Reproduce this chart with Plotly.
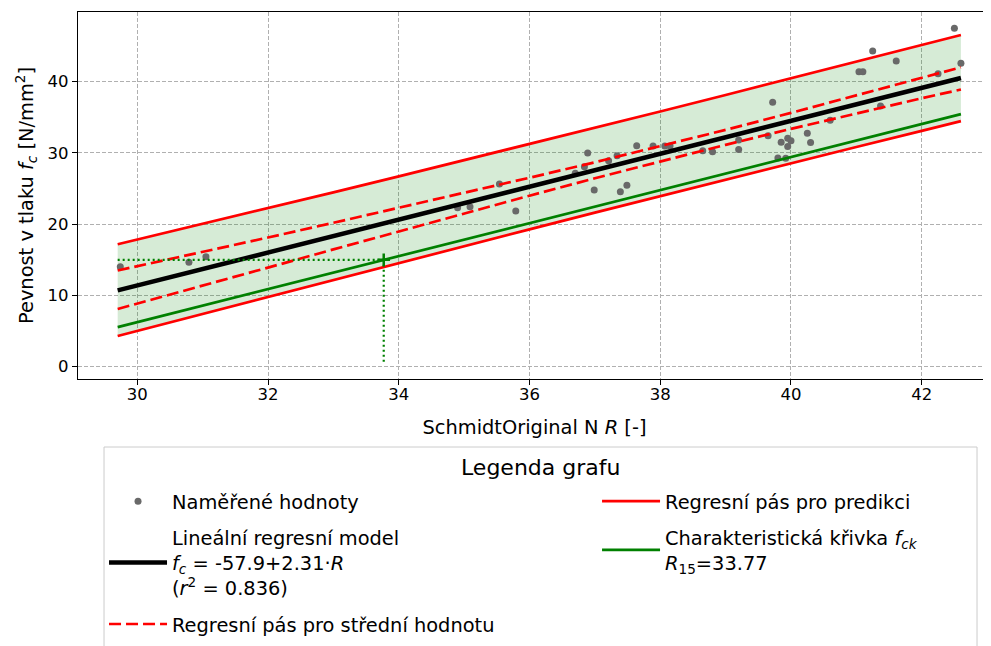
import plotly.graph_objects as go

R_meas = [29.74, 30.79, 31.05, 34.90, 35.09, 35.54, 35.79, 36.70, 36.84, 36.89,
          36.99, 37.21, 37.34, 37.39, 37.49, 37.64, 37.89, 38.07, 38.15, 38.65,
          38.80, 39.20, 39.20, 39.65, 39.72, 39.80, 39.85, 39.92, 39.95, 39.95,
          40.00, 40.25, 40.30, 40.60, 41.04, 41.10, 41.25, 41.37, 41.61, 42.25,
          42.50, 42.60]
fc_meas = [14.04, 14.65, 15.44, 22.30, 22.46, 25.64, 21.85, 27.14, 28.07, 30.00,
           24.80, 28.90, 29.60, 24.56, 25.46, 31.00, 30.98, 30.98, 30.98, 30.30,
           30.18, 31.80, 30.50, 32.40, 37.10, 29.30, 31.50, 29.25, 32.05, 30.90,
           31.70, 32.75, 31.45, 34.58, 41.40, 41.40, 44.30, 36.60, 42.90, 41.10,
           47.50, 42.60]

# regression line end points
R_reg = [29.7, 42.6]
fc_reg = [10.71, 40.51]

# band grid
R_band = [29.7, 31, 32, 33, 34, 35, 36, 37, 38, 39, 40, 41, 42, 42.6]
conf_up = [13.50, 16.07, 18.13, 20.20, 22.28, 24.39, 26.52, 28.69, 30.93, 33.24, 35.62, 38.07, 40.56, 42.02]
conf_lo = [8.10, 11.35, 13.91, 16.46, 19.00, 21.51, 24.00, 26.45, 28.83, 31.14, 33.38, 35.55, 37.68, 38.90]
pred_up = [17.18, 20.02, 22.24, 24.47, 26.71, 28.97, 31.24, 33.52, 35.82, 38.13, 40.45, 42.79, 45.14, 46.56]
pred_lo = [4.30, 7.40, 9.80, 12.19, 14.57, 16.93, 19.28, 21.62, 23.94, 26.25, 28.55, 30.83, 33.10, 34.47]

# characteristic curve
R_char = [29.7, 42.6]
fc_char = [5.55, 35.45]
R15 = 33.77
fck = 15.0
fc_floor = 0.5

x_ticks = [30, 32, 34, 36, 38, 40, 42]
y_ticks = [0, 10, 20, 30, 40]

FONT = "DejaVu Sans"

fig = go.Figure()

# fill of prediction band
fig.add_trace(go.Scatter(x=R_band, y=pred_lo, mode="lines", line=dict(width=0),
                         showlegend=False, hoverinfo="skip"))
fig.add_trace(go.Scatter(x=R_band, y=pred_up, mode="lines", line=dict(width=0),
                         fill="tonexty", fillcolor="rgba(0,128,0,0.16)",
                         showlegend=False, hoverinfo="skip"))

# measured points
fig.add_trace(go.Scatter(x=R_meas, y=fc_meas, mode="markers",
                         marker=dict(color="#696969", size=7),
                         name="Naměřené hodnoty", legend="legend",
                         legendgroup="meas", legendrank=1))

# regression
fig.add_trace(go.Scatter(x=R_reg, y=fc_reg, mode="lines",
                         line=dict(color="black", width=4.5),
                         name="Lineální regresní model<br><i>f</i><sub><i>c</i></sub> = -57.9+2.31·<i>R</i><br>(<i>r</i><sup>2</sup> = 0.836)",
                         legend="legend", legendgroup="reg", legendrank=2))

# confidence band
fig.add_trace(go.Scatter(x=R_band, y=conf_up, mode="lines",
                         line=dict(color="red", width=2.7, dash="12px,5px"),
                         name="Regresní pás pro střední hodnotu", legend="legend",
                         legendgroup="conf", legendrank=3))
fig.add_trace(go.Scatter(x=R_band, y=conf_lo, mode="lines",
                         line=dict(color="red", width=2.7, dash="12px,5px"),
                         showlegend=False, legendgroup="conf"))

# prediction band
fig.add_trace(go.Scatter(x=R_band, y=pred_up, mode="lines",
                         line=dict(color="red", width=2.7),
                         name="Regresní pás pro predikci", legend="legend2",
                         legendgroup="pred", legendrank=1))
fig.add_trace(go.Scatter(x=R_band, y=pred_lo, mode="lines",
                         line=dict(color="red", width=2.7),
                         showlegend=False, legendgroup="pred"))

# characteristic curve
fig.add_trace(go.Scatter(x=R_char, y=fc_char, mode="lines",
                         line=dict(color="green", width=2.7),
                         name="Charakteristická křivka <i>f</i><sub><i>ck</i></sub><br><i>R</i><sub>15</sub>=33.77",
                         legend="legend2", legendgroup="char", legendrank=2))

# dotted guide lines
fig.add_trace(go.Scatter(x=[R_reg[0], R15], y=[fck, fck], mode="lines",
                         line=dict(color="green", width=2.2, dash="2px,3px"),
                         showlegend=False, hoverinfo="skip"))
fig.add_trace(go.Scatter(x=[R15, R15], y=[fck, fc_floor], mode="lines",
                         line=dict(color="green", width=2.2, dash="2px,3px"),
                         showlegend=False, hoverinfo="skip"))
fig.add_trace(go.Scatter(x=[R15], y=[fck], mode="markers",
                         marker=dict(symbol="cross-thin", size=9, color="green",
                                     line=dict(color="green", width=2.5)),
                         showlegend=False, hoverinfo="skip"))

axis_common = dict(showline=True, linecolor="black", linewidth=1.2, mirror=True,
                   ticks="outside", ticklen=5, tickcolor="black", tickwidth=1.2,
                   showgrid=True, gridcolor="#b0b0b0", griddash="4px,2px", gridwidth=0.9,
                   zeroline=False, tickfont=dict(family=FONT, size=16.5, color="black"))

legend_common = dict(
    orientation="v", xanchor="left", yanchor="top",
    itemwidth=58, tracegroupgap=8,
    bgcolor="rgba(0,0,0,0)", borderwidth=0,
    font=dict(family=FONT, size=19.4, color="black"),
    traceorder="grouped",
)

fig.update_layout(
    width=983, height=638,
    margin=dict(l=70, r=0, t=4, b=267, autoexpand=False),
    paper_bgcolor="white", plot_bgcolor="white",
    font=dict(family=FONT, color="black"),
    xaxis=dict(range=[29.093, 43.06], tickvals=x_ticks, ticklabelstandoff=-5,
               title=dict(text="SchmidtOriginal N <i>R</i> [-]",
                          font=dict(family=FONT, size=19.4), standoff=17),
               **axis_common),
    yaxis=dict(range=[-1.726, 49.78], tickvals=y_ticks,
               title=dict(text="Pevnost v tlaku <i>f</i><sub><i>c</i></sub> [N/mm<sup>2</sup>]",
                          font=dict(family=FONT, size=19.4), standoff=8),
               **axis_common),
    legend=dict(x=0.0285, y=-0.2807, **legend_common),
    legend2=dict(x=0.5685, y=-0.2807, **legend_common),
    shapes=[dict(type="rect", xref="paper", yref="paper",
                 x0=0.0285, x1=0.9847, y0=-0.80, y1=-0.1853,
                 line=dict(color="#cccccc", width=1), fillcolor="rgba(0,0,0,0)",
                 layer="below")],
    annotations=[dict(text="Legenda grafu", xref="paper", yref="paper",
                      x=0.5071, y=-0.2398, xanchor="center", yanchor="middle",
                      showarrow=False, font=dict(family=FONT, size=22, color="black"))],
)

fig.write_html("out.html")
